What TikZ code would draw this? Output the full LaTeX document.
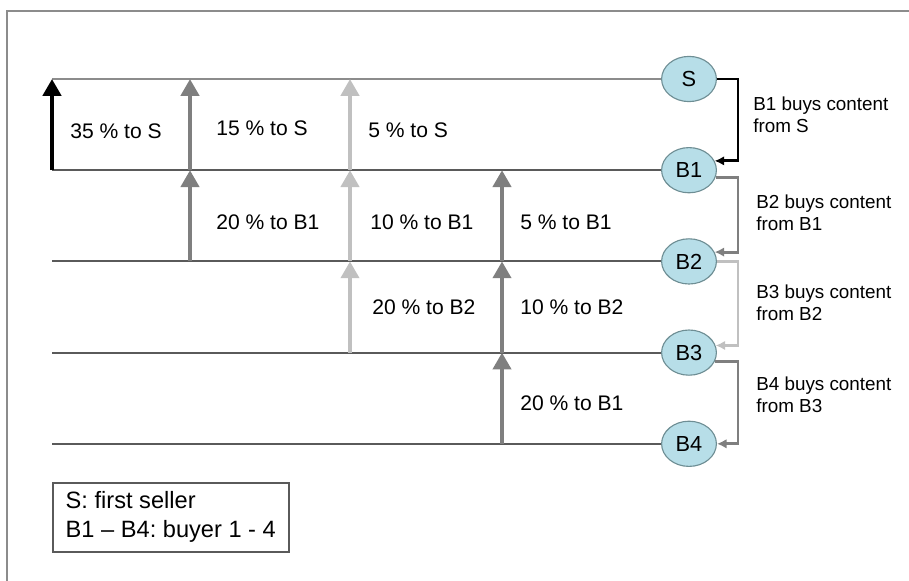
\documentclass[tikz,border=0pt]{standalone}
\usepackage{fontspec}
\setmainfont{Liberation Sans}
\usetikzlibrary{shapes.geometric, arrows.meta, positioning}
\definecolor{darkshare}{HTML}{7F7F7F}
\definecolor{lightshare}{HTML}{C0C0C0}
\definecolor{linegray}{HTML}{5A5A5A}
\definecolor{framegray}{HTML}{8C8C8C}
\definecolor{partyfill}{HTML}{B7DEE8}
\definecolor{partydraw}{HTML}{6E8E94}

\begin{document}
\begin{tikzpicture}[node distance=2.28cm]
\tikzstyle{party} = [ellipse, minimum width=1.37cm, minimum height=1.13cm, inner sep=0pt, draw=partydraw, fill=partyfill, thick, font=\fontsize{15.5}{18}\selectfont]
\tikzstyle{hline} = [linegray, line width=1.3pt]
\tikzstyle{payment} = [line width=2.85pt, -{Triangle[width=0.45cm, length=0.42cm]}]
\tikzstyle{purchase} = [line width=2.1pt, -{Latex[width=0.24cm, length=0.24cm]}]
\tikzstyle{share} = [anchor=west, inner sep=0pt, font=\fontsize{15}{18}\selectfont]
\tikzstyle{buys} = [anchor=west, align=left, inner sep=0pt, font=\fontsize{13.4}{15.8}\selectfont]

\useasboundingbox (0,0) rectangle (22.725,-14.525);

% Frame
\draw[framegray, line width=1.4pt] (0.175,-14.525) -- (0.175,-0.275) -- (22.725,-0.275);

% Seller and buyers
\node (S) [party] at (17.225,-1.975) {S};
\node (B1) [party, below of=S] {B1};
\node (B2) [party, below of=B1] {B2};
\node (B3) [party, below of=B2] {B3};
\node (B4) [party, below of=B3] {B4};

% Columns and right side
\coordinate (c1) at (1.3,0);
\coordinate (c2) at (4.75,0);
\coordinate (c3) at (8.75,0);
\coordinate (c4) at (12.55,0);
\coordinate (rx) at (18.45,0);

% Horizontal lines
\draw[framegray, line width=1.3pt] (S.west -| c1) -- (S.west);
\foreach \p in {B1, B2, B3, B4} {
    \draw[hline] (\p.west -| c1) -- (\p.west);
}

% Payments
\draw[payment, black, line width=3.5pt] (c1 |- B1) -- (c1 |- S);
\foreach \from/\to in {B2/B1, B1/S} {
    \draw[payment, darkshare] (c2 |- \from) -- (c2 |- \to);
}
\foreach \from/\to in {B3/B2, B2/B1, B1/S} {
    \draw[payment, lightshare] (c3 |- \from) -- (c3 |- \to);
}
\foreach \from/\to in {B4/B3, B3/B2, B2/B1} {
    \draw[payment, darkshare] (c4 |- \from) -- (c4 |- \to);
}

% Shares
\node (s1) [share] at (1.75,-3.275) {35 \% to S};
\node (s2) [share] at (5.4,-3.2) {15 \% to S};
\node (s3) [share] at (9.2,-3.25) {5 \% to S};
\node (s4) [share] at (5.4,-5.55) {20 \% to B1};
\node (s5) [share] at (9.25,-5.55) {10 \% to B1};
\node (s6) [share] at (13.0,-5.55) {5 \% to B1};
\node (s7) [share] at (9.3,-7.675) {20 \% to B2};
\node (s8) [share] at (13.0,-7.675) {10 \% to B2};
\node (s9) [share] at (13.0,-10.075) {20 \% to B1};

% Purchases
\draw[purchase, black] (S.east) -- (S.east -| rx) |- (B1.20);
\draw[purchase, darkshare] (B1.-15) -- (B1.-15 -| rx) |- (B2.20);
\draw[purchase, lightshare] (B2.east) -- (B2.east -| rx) |- (B3.15);
\draw[purchase, darkshare] (B3.-20) -- (B3.-20 -| rx) |- (B4.east);

\node (l1) [buys] at (18.825,-2.875) {B1 buys content\\from S};
\node (l2) [buys] at (18.9,-5.325) {B2 buys content\\from B1};
\node (l3) [buys] at (18.9,-7.575) {B3 buys content\\from B2};
\node (l4) [buys] at (18.9,-9.875) {B4 buys content\\from B3};

% Legend
\node (legend) [draw=linegray, line width=1.1pt, anchor=north west, align=left, minimum width=5.9cm, minimum height=1.725cm, font=\fontsize{16.8}{20.6}\selectfont\frenchspacing] at (1.3,-12.05) {S: first seller\\B1 -- B4: buyer 1 - 4};

\end{tikzpicture}
\end{document}
